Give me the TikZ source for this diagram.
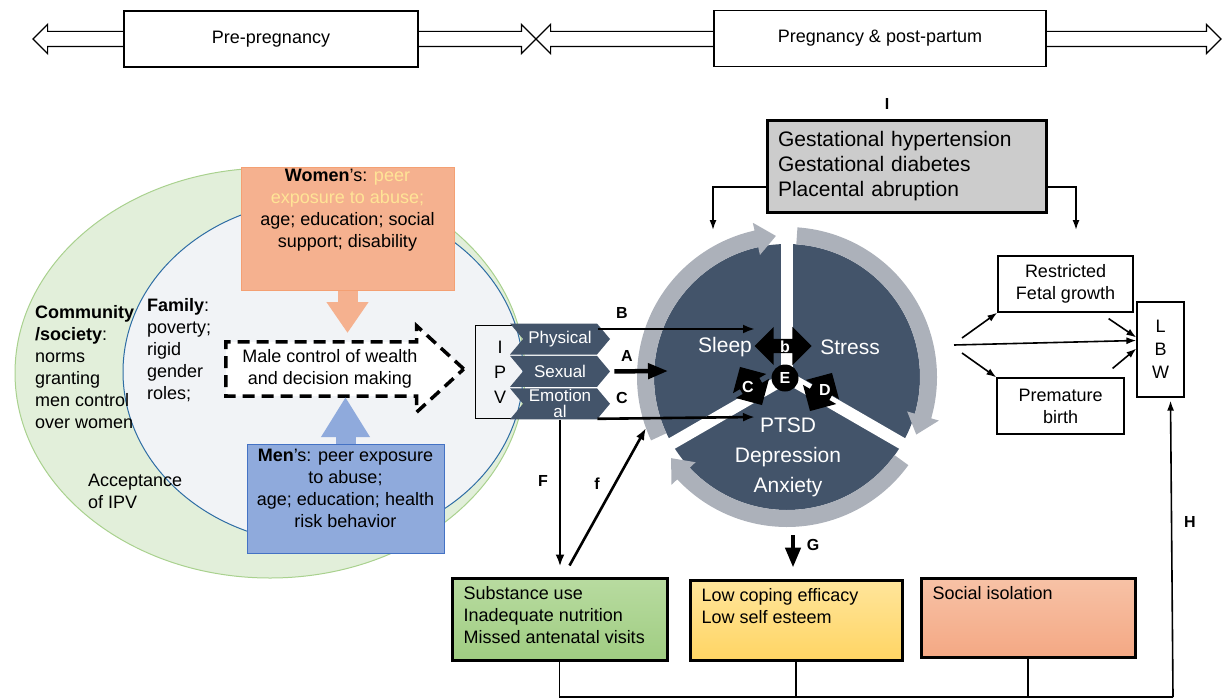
\documentclass[tikz,border=0pt]{standalone}
\usepackage{fontspec}
\setmainfont{Liberation Sans}
\definecolor{communityfill}{RGB}{226,239,218}
\definecolor{communityline}{RGB}{169,209,142}
\definecolor{familyfill}{RGB}{241,243,246}
\definecolor{familyline}{RGB}{46,109,164}
\definecolor{womenfill}{RGB}{245,177,143}
\definecolor{womenline}{RGB}{244,160,115}
\definecolor{peertext}{RGB}{255,228,150}
\definecolor{menfill}{RGB}{143,170,220}
\definecolor{menline}{RGB}{68,114,196}
\definecolor{slate}{RGB}{67,84,106}
\definecolor{ringgray}{RGB}{172,177,186}
\definecolor{gestgray}{RGB}{204,204,204}
\definecolor{substtop}{RGB}{184,219,160}
\definecolor{substbot}{RGB}{160,205,130}
\definecolor{copetop}{RGB}{255,229,155}
\definecolor{copebot}{RGB}{255,213,100}
\definecolor{isoltop}{RGB}{247,194,166}
\definecolor{isolbot}{RGB}{244,168,132}
\usetikzlibrary{arrows.meta, positioning, shapes.arrows, shapes.symbols, calc}
\tikzset{
	phasebox/.style={rectangle, draw, line width=1.2pt, fill=white, minimum height=56pt, font=\fontsize{18}{22}\selectfont},
	phasearrow/.style={double arrow, draw, line width=1.2pt, fill=white, minimum width=28pt, double arrow head extend=7pt, inner xsep=0pt, inner ysep=7pt},
	womenbox/.style={rectangle, draw=womenline, fill=womenfill, line width=1pt, minimum width=213pt, minimum height=123pt},
	menbox/.style={rectangle, draw=menline, fill=menfill, line width=1pt, minimum width=197pt, minimum height=109pt},
	boxtext/.style={align=center, inner sep=0pt, font=\fontsize{18}{22}\selectfont},
	sidetext/.style={align=left, inner sep=0pt, font=\fontsize{18}{22}\selectfont},
	ctrlarrow/.style={single arrow, draw, dash pattern=on 12pt off 7pt, line width=3.5pt, fill=white, minimum height=238pt, minimum width=86pt, single arrow head extend=16pt, single arrow tip angle=85, inner xsep=0pt, inner ysep=6pt, align=center, font=\fontsize{18}{22}\selectfont},
	ipvtype/.style={signal, signal from=west, signal to=east, signal pointer angle=100, fill=slate, text=white, minimum width=100pt, minimum height=31pt, inner sep=0pt, align=center, font=\fontsize{17}{16}\selectfont},
	cycletext/.style={text=white, align=center, inner sep=0pt, font=\fontsize{21}{30}\selectfont},
	relarrow/.style={double arrow, fill=black, minimum height=57pt, minimum width=38pt, double arrow head extend=12pt, inner xsep=0pt, inner ysep=7pt},
	smallrel/.style={double arrow, fill=black, minimum height=44pt, minimum width=38pt, double arrow head extend=8pt, inner xsep=0pt, inner ysep=11pt},
	letter/.style={text=white, inner sep=0pt, font=\bfseries\fontsize{16}{16}\selectfont},
	pathlabel/.style={inner sep=0pt, font=\bfseries\fontsize{16}{16}\selectfont},
	gestbox/.style={rectangle, draw, line width=3pt, fill=gestgray, text width=257pt, inner sep=11pt, minimum height=91pt, align=left, font=\fontsize{21}{25}\selectfont},
	outbox/.style={rectangle, draw, line width=1.2pt, align=center, inner sep=0pt, font=\fontsize{18}{22}\selectfont},
	factorbox/.style={rectangle, draw, line width=3pt},
	factortext/.style={anchor=north west, align=left, inner sep=0pt, font=\fontsize{18}{22}\selectfont},
	arrow/.style={-{Latex[length=12pt, width=9pt]}, line width=2.6pt},
	fatarrow/.style={-{Triangle[length=20pt, width=15pt]}, line width=4.5pt},
	thinarrow/.style={-{Latex[length=10pt, width=7pt]}, line width=1.6pt},
	link/.style={line width=1.2pt},
}
\begin{document}
\begin{tikzpicture}[x=1pt, y=-1pt, node distance=1pt]
	\useasboundingbox (0,0) rectangle (1222,698);
	% timeline
	\node[phasearrow, minimum height=503pt] (prearr) at (284.5,39) {};
	\node[phasearrow, minimum height=685pt] (pgarr) at (878.5,39) {};
	\node[phasebox, minimum width=294pt] (prebox) at (271,39) {Pre-pregnancy};
	\node[phasebox, minimum width=332pt] (pgbox) at (880,38.5) {Pregnancy \& post-partum};
	% ecological levels
	\filldraw[fill=communityfill, draw=communityline, line width=1pt] (270,373) ellipse[x radius=255, y radius=205];
	\filldraw[fill=familyfill, draw=familyline, line width=1pt] (323,372) ellipse[x radius=200, y radius=172];
	\node[sidetext, anchor=west] (community) at (35,367) {\textbf{Community}\\\textbf{/society}:\\norms\\granting\\men control\\over women};
	\node[sidetext, anchor=west] (family) at (147,350) {\textbf{Family}:\\poverty;\\rigid\\gender\\roles;};
	\node[sidetext, anchor=west] (accept) at (88,491) {Acceptance\\of IPV};
	\node[ctrlarrow, anchor=tail] (mctrl) at (224,369) {Male control of wealth\\and decision making};
	\node[womenbox] (wbox) at (347.5,228.5) {};
	\node[boxtext] (wtext) at (347.5,210) {\textbf{Women}'s: {\color{peertext}peer}\\{\color{peertext}exposure to abuse;}\\age; education; social\\support; disability};
	\node[menbox] (mbox) at (345.5,498.5) {};
	\node[boxtext] (mtext) at (345.5,488) {\textbf{Men}'s: peer exposure\\to abuse;\\age; education; health\\risk behavior};
	\coordinate (wtip) at (347.5,333);
	\coordinate (mtip) at (345.5,397);
	\draw[line width=20pt, draw=womenfill, -{Triangle[width=40pt, length=31pt]}] (wbox.south) -- (wtip);
	\draw[line width=20pt, draw=menfill, -{Triangle[width=46pt, length=40pt]}] (mbox.north) -- (mtip);
	% IPV types
	\node[inner sep=0pt, minimum width=48pt, minimum height=92pt, align=center, font=\fontsize{18}{25}\selectfont] (ipv) at (500,372) {I\\P\\V};
	\draw[link] (ipv.north east) -- (ipv.north west) -- (ipv.south west) -- (ipv.south east);
	\node[ipvtype] (phys) at (560,339) {Physical};
	\node[ipvtype, below=of phys] (sex) {Sexual};
	\node[ipvtype, below=of sex] (emo) {Emotion\\al};
	% cycle
	\coordinate (cyc) at (787,377);
	\begin{scope}[shift={(cyc)}, yscale=-1]
		\fill[slate] (0,0) circle[radius=133];
		\foreach \a in {90,-30,210}
			\draw[white, line width=12pt] (0,0) -- (\a:152);
		\foreach \s/\e in {205/94.5, 86/-24, -36/-145}
			\fill[ringgray] (\s:150) arc[start angle=\s, end angle=\e+8, radius=150] -- (\e+8:158) -- (\e:141.5) -- (\e+8:125) -- (\e+8:133) arc[start angle=\e+8, end angle=\s, radius=133] -- cycle;
	\end{scope}
	\node[cycletext] (sleep) at (725,347) {Sleep};
	\node[cycletext] (stress) at (850,347) {Stress};
	\node[cycletext] (mood) at (788,457) {PTSD\\Depression\\Anxiety};
	\node[relarrow] (relb) at (783,346) {};
	\node[letter] (lbl-b) at (785,347) {b};
	\node[smallrel, rotate=-60] (relc) at (751,386) {};
	\node[letter] (lbl-c) at (748,387) {C};
	\node[smallrel, rotate=60] (reld) at (821,392) {};
	\node[letter] (lbl-d) at (825,390) {D};
	\node[circle, fill=black, minimum size=27pt, inner sep=0pt, letter] (rele) at (785,378) {E};
	% pathways from IPV
	\draw[arrow] ($(phys.east)+(-12,-10)$) -- ($(cyc)+(-32,-48)$);
	\draw[fatarrow] ($(sex.east)+(4,0)$) -- ($(cyc)+(-119,-6)$);
	\draw[arrow] ($(emo.east)+(-13,15)$) -- ($(cyc)+(-32,40)$);
	\node[pathlabel] (lbl-B) at (622,313) {B};
	\node[pathlabel] (lbl-A) at (627,356) {A};
	\node[pathlabel] (lbl-C) at (622,398) {C};
	% pregnancy complications
	\node[gestbox] (gest) at (906.5,166.5) {Gestational hypertension\\Gestational diabetes\\Placental abruption};
	\node[pathlabel] (lbl-I) at (887,104) {I};
	\coordinate (gl) at (713,230);
	\coordinate (gr) at (1076,230);
	\draw[thinarrow] ($(gest.south west)+(0,-27)$) -| (gl);
	\draw[thinarrow] ($(gest.south east)+(0,-27)$) -| (gr);
	% birth outcomes
	\node[outbox, minimum width=135pt, minimum height=56pt] (rfg) at (1065.5,284) {Restricted\\Fetal growth};
	\node[outbox, minimum width=127pt, minimum height=56pt] (prem) at (1060.5,406) {Premature\\birth};
	\node[outbox, minimum width=47pt, minimum height=95pt, font=\fontsize{18}{23}\selectfont] (lbw) at (1160.5,349.5) {L\\B\\W};
	\coordinate (cycout) at (954,345);
	\draw[thinarrow] (cycout) -- ($(lbw.west)+(0,-9)$);
	\draw[thinarrow] ($(cycout)+(8,-7)$) -- (rfg.south west);
	\draw[thinarrow] ($(cycout)+(8,8)$) -- (prem.north west);
	\draw[thinarrow] ($(rfg.south east)+(-25,6)$) -- ($(lbw.west)+(0,-12)$);
	\draw[thinarrow] ($(prem.north east)+(-12,-9)$) -- ($(lbw.west)+(0,-1)$);
	% behavioural and social factors
	\node[factorbox, minimum width=215pt, minimum height=82pt, top color=substtop, bottom color=substbot] (subst) at (559.5,619) {};
	\node[factortext] (substtxt) at ($(subst.north west)+(13,10)$) {Substance use\\Inadequate nutrition\\Missed antenatal visits};
	\node[factorbox, minimum width=212pt, minimum height=80pt, top color=copetop, bottom color=copebot] (cope) at (796,620) {};
	\node[factortext] (copetxt) at ($(cope.north west)+(13,10)$) {Low coping efficacy\\Low self esteem};
	\node[factorbox, minimum width=214pt, minimum height=79pt, top color=isoltop, bottom color=isolbot] (isol) at (1028,617.5) {};
	\node[factortext] (isoltxt) at ($(isol.north west)+(13,10)$) {Social isolation};
	\draw[arrow, shorten >=10pt] (emo.south) -- (emo.south |- subst.north);
	\draw[arrow] ($(subst.north)+(10,-11)$) -- ($(cyc)+(-141,51)$);
	\draw[fatarrow] ($(cyc)+(6,158)$) -- ($(cope.north)+(-3,-11)$);
	\node[pathlabel] (lbl-F) at (543,481) {F};
	\node[pathlabel] (lbl-f) at (597,484) {f};
	\node[pathlabel] (lbl-G) at (813,545) {G};
	\coordinate (hb) at (1173,697);
	\draw[link] (subst.south) |- (hb);
	\draw[link] (cope.south) -- (cope.south |- hb);
	\draw[link] (isol.south) -- (isol.south |- hb);
	\draw[thinarrow] (hb) -- ($(lbw.south)+(10,3)$);
	\node[pathlabel] (lbl-H) at (1190,522) {H};
\end{tikzpicture}
\end{document}
